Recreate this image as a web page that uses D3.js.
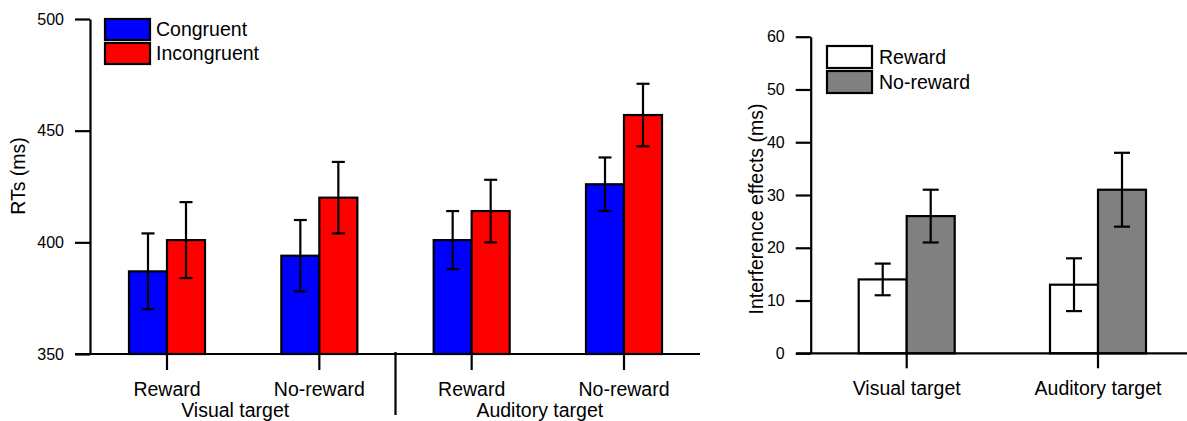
<!DOCTYPE html>
<html>
<head>
<meta charset="utf-8">
<script src="https://cdn.jsdelivr.net/npm/d3@7"></script>
<style>
  body { margin: 0; background: #fff; }
  svg text { font-family: "Liberation Sans", Arial, Helvetica, sans-serif; fill: #000; }
</style>
</head>
<body>
<svg class="chart" width="1187" height="421"></svg>
<script>
// left panel: RTs by target / reward / congruency
var rtConditions = ['Visual-Reward', 'Visual-No-reward', 'Auditory-Reward', 'Auditory-No-reward'];
var rtCondLabels = ['Reward', 'No-reward', 'Reward', 'No-reward'];
var rtGroups = ['Visual target', 'Auditory target'];
var rtSeries = ['Congruent', 'Incongruent'];
var rtColors = ['#0000ff', '#ff0000'];
var congruentRT = [387, 394, 401, 426];
var congruentErr = [17, 16, 13, 12];
var incongruentRT = [401, 420, 414, 457];
var incongruentErr = [17, 16, 14, 14];
var rtTicks = [350, 400, 450, 500];

// right panel: interference effects
var ieCategories = ['Visual target', 'Auditory target'];
var ieSeries = ['Reward', 'No-reward'];
var ieColors = ['#ffffff', '#808080'];
var rewardIE = [14, 13];
var rewardErr = [3, 5];
var noRewardIE = [26, 31];
var noRewardErr = [5, 7];
var ieTicks = [0, 10, 20, 30, 40, 50, 60];

var svg = d3.select('svg.chart');
var ink = '#000';
var lw = 2.2;
var labelSize = 19.5;

var drawErrBar = function (g, x, yScale, mean, err, capHalf) {
  g.append('line')
    .attr('x1', x).attr('x2', x)
    .attr('y1', yScale(mean + err)).attr('y2', yScale(mean - err))
    .attr('stroke', ink).attr('stroke-width', lw);
  [mean + err, mean - err].forEach(function (v) {
    g.append('line')
      .attr('x1', x - capHalf).attr('x2', x + capHalf)
      .attr('y1', yScale(v)).attr('y2', yScale(v))
      .attr('stroke', ink).attr('stroke-width', lw);
  });
};

var styleAxis = function (g) {
  g.selectAll('path, line').attr('stroke', ink).attr('stroke-width', lw);
  g.selectAll('text').attr('font-size', 16).attr('fill', ink);
};

// ---------- left panel ----------
var leftG = svg.append('g');
var yRT = d3.scaleLinear().domain([350, 500]).range([354, 19]);
var xRT = d3.scalePoint().domain(rtConditions).range([167, 624]);
var subRT = d3.scaleBand().domain(rtSeries).range([-38, 38]);
var rtValues = [congruentRT, incongruentRT];
var rtErrs = [congruentErr, incongruentErr];

rtSeries.forEach(function (s, si) {
  rtConditions.forEach(function (c, ci) {
    leftG.append('rect')
      .attr('x', xRT(c) + subRT(s))
      .attr('y', yRT(rtValues[si][ci]))
      .attr('width', subRT.bandwidth())
      .attr('height', yRT(350) - yRT(rtValues[si][ci]))
      .attr('fill', rtColors[si])
      .attr('stroke', ink).attr('stroke-width', lw);
  });
});
rtSeries.forEach(function (s, si) {
  rtConditions.forEach(function (c, ci) {
    drawErrBar(leftG, xRT(c) + subRT(s) + subRT.bandwidth() / 2, yRT,
      rtValues[si][ci], rtErrs[si][ci], 6.5);
  });
});

leftG.append('g')
  .attr('transform', 'translate(90,0)')
  .call(d3.axisLeft(yRT).tickValues(rtTicks).tickSize(15).tickPadding(11).tickSizeOuter(0))
  .call(styleAxis);

// baseline + category ticks
leftG.append('line')
  .attr('x1', 75).attr('x2', 700).attr('y1', yRT(350)).attr('y2', yRT(350))
  .attr('stroke', ink).attr('stroke-width', lw);
rtConditions.forEach(function (c, ci) {
  leftG.append('line')
    .attr('x1', xRT(c)).attr('x2', xRT(c))
    .attr('y1', yRT(350)).attr('y2', yRT(350) + 16)
    .attr('stroke', ink).attr('stroke-width', lw);
  leftG.append('text')
    .attr('x', xRT(c)).attr('y', 396)
    .attr('text-anchor', 'middle').attr('font-size', labelSize)
    .text(rtCondLabels[ci]);
});
// separator between the two target groups
var sepX = (xRT(rtConditions[1]) + xRT(rtConditions[2])) / 2;
leftG.append('line')
  .attr('x1', sepX).attr('x2', sepX).attr('y1', yRT(350) - 2).attr('y2', 415)
  .attr('stroke', ink).attr('stroke-width', lw);
rtGroups.forEach(function (gName, gi) {
  var mid = (xRT(rtConditions[gi * 2]) + xRT(rtConditions[gi * 2 + 1])) / 2;
  leftG.append('text')
    .attr('x', mid - 8).attr('y', 417)
    .attr('text-anchor', 'middle').attr('font-size', labelSize)
    .text(gName);
});

leftG.append('text')
  .attr('transform', 'translate(25,176) rotate(-90)')
  .attr('text-anchor', 'middle').attr('font-size', labelSize)
  .text('RTs (ms)');

// legend
rtSeries.forEach(function (s, si) {
  leftG.append('rect')
    .attr('x', 105).attr('y', 19 + si * 24)
    .attr('width', 45).attr('height', 21)
    .attr('fill', rtColors[si]).attr('stroke', ink).attr('stroke-width', lw);
  leftG.append('text')
    .attr('x', 156).attr('y', 36 + si * 24)
    .attr('font-size', labelSize)
    .text(s);
});

// ---------- right panel ----------
var rightG = svg.append('g');
var yIE = d3.scaleLinear().domain([0, 60]).range([353.3, 36.7]);
var xIE = d3.scalePoint().domain(ieCategories).range([906.7, 1098]);
var subIE = d3.scaleBand().domain(ieSeries).range([-48, 48]);
var ieValues = [rewardIE, noRewardIE];
var ieErrs = [rewardErr, noRewardErr];

ieSeries.forEach(function (s, si) {
  ieCategories.forEach(function (c, ci) {
    rightG.append('rect')
      .attr('x', xIE(c) + subIE(s))
      .attr('y', yIE(ieValues[si][ci]))
      .attr('width', subIE.bandwidth())
      .attr('height', yIE(0) - yIE(ieValues[si][ci]))
      .attr('fill', ieColors[si])
      .attr('stroke', ink).attr('stroke-width', lw);
  });
});
ieSeries.forEach(function (s, si) {
  ieCategories.forEach(function (c, ci) {
    drawErrBar(rightG, xIE(c) + subIE(s) + subIE.bandwidth() / 2, yIE,
      ieValues[si][ci], ieErrs[si][ci], 8);
  });
});

rightG.append('g')
  .attr('transform', 'translate(810.7,0)')
  .call(d3.axisLeft(yIE).tickValues(ieTicks).tickSize(15).tickPadding(11).tickSizeOuter(0))
  .call(styleAxis);

rightG.append('line')
  .attr('x1', 796).attr('x2', 1187).attr('y1', yIE(0)).attr('y2', yIE(0))
  .attr('stroke', ink).attr('stroke-width', lw);
ieCategories.forEach(function (c) {
  rightG.append('line')
    .attr('x1', xIE(c)).attr('x2', xIE(c))
    .attr('y1', yIE(0)).attr('y2', yIE(0) + 15)
    .attr('stroke', ink).attr('stroke-width', lw);
  rightG.append('text')
    .attr('x', xIE(c)).attr('y', 395)
    .attr('text-anchor', 'middle').attr('font-size', labelSize)
    .text(c);
});

rightG.append('text')
  .attr('transform', 'translate(763,209) rotate(-90)')
  .attr('text-anchor', 'middle').attr('font-size', labelSize)
  .text('Interference effects (ms)');

ieSeries.forEach(function (s, si) {
  rightG.append('rect')
    .attr('x', 827).attr('y', 46 + si * 25)
    .attr('width', 45).attr('height', 22)
    .attr('fill', ieColors[si]).attr('stroke', ink).attr('stroke-width', lw);
  rightG.append('text')
    .attr('x', 879).attr('y', 64 + si * 25)
    .attr('font-size', labelSize)
    .text(s);
});
</script>
</body>
</html>
